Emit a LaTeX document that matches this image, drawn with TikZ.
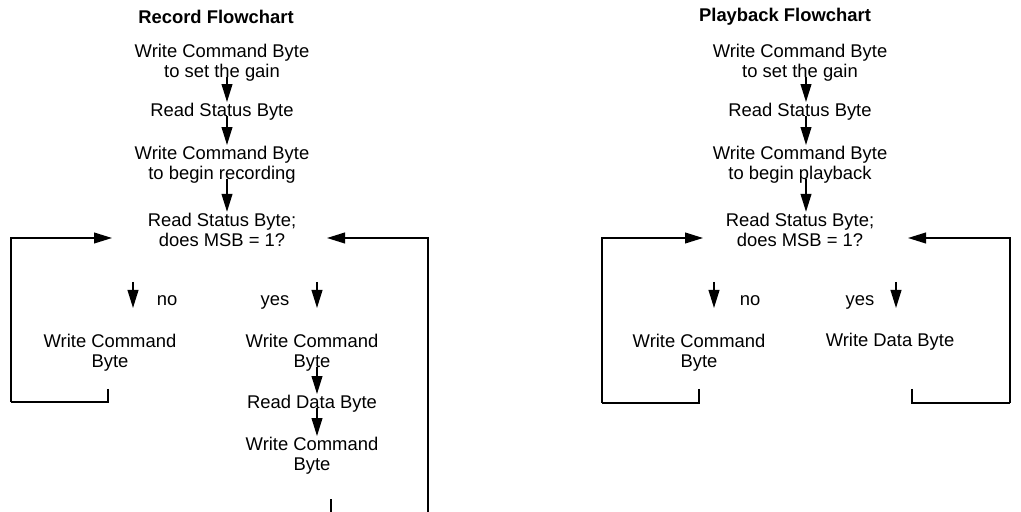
\documentclass[tikz,border=0pt]{standalone}
\usepackage{fontspec}
\setmainfont{Liberation Sans}
\usetikzlibrary{arrows.meta,positioning}
\tikzset{
  stepbox/.style={align=center, inner sep=0pt, font=\fontsize{9.2}{10}\selectfont},
  ttl/.style={inner sep=0pt, font=\fontsize{9.2}{10}\selectfont\bfseries},
  lbl/.style={inner sep=0pt, anchor=base, font=\fontsize{9.2}{10}\selectfont},
  fl/.style={-{Triangle[length=9pt,width=5.4pt]}, line width=0.75pt},
  dn/.style={fl, shorten <=-2.5pt, shorten >=0.5pt},
  ln/.style={line width=0.75pt},
}

\begin{document}
\begin{tikzpicture}[x=0.5pt, y=-0.5pt]
\useasboundingbox (0,0) rectangle (1021,512);

% --- record flowchart ---------------------------------------------------
\node[ttl] (rtitle) at (216,17) {Record Flowchart};
\node[stepbox] (rgain) at (222,63) {Write Command Byte\\to set the gain};
\node[stepbox] (rstat) at (222,112) {Read Status Byte};
\node[stepbox] (rbegin) at (222,165) {Write Command Byte\\to begin recording};
\node[stepbox] (rmsb) at (222,230) {Read Status Byte;\\does MSB = 1?};
\draw[dn] ([xshift=2.5pt]rgain.south) -- ([xshift=2.5pt]rstat.north);
\draw[dn] ([xshift=2.5pt]rstat.south) -- ([xshift=2.5pt]rbegin.north);
\draw[dn] ([xshift=2.5pt]rbegin.south) -- ([xshift=2.5pt]rmsb.north);

\coordinate (rnoA) at (133,282);  \coordinate (rnoB) at (133,308);
\coordinate (ryesA) at (317,282); \coordinate (ryesB) at (317,308);
\draw[fl] (rnoA) -- (rnoB);
\draw[fl] (ryesA) -- (ryesB);
\node[lbl] (rno) at (167,306) {no};
\node[lbl] (ryes) at (275,306) {yes};

\node[stepbox] (rnocmd) at (110,353) {Write Command\\Byte};
\node[stepbox] (ryescmd) at (312,353) {Write Command\\Byte};
\node[stepbox] (rdata) at (312,404) {Read Data Byte};
\node[stepbox] (rcmd) at (312,456) {Write Command\\Byte};
\draw[dn] ([xshift=2.5pt]ryescmd.south) -- ([xshift=2.5pt]rdata.north);
\draw[dn] ([xshift=2.5pt]rdata.south) -- ([xshift=2.5pt]rcmd.north);

% loops back to the status read
\coordinate (rlpA) at (108,389);
\coordinate (rlpB) at (11,402);
\coordinate (rlpC) at (112,238);
\draw[ln] (rlpA) |- (rlpB);
\draw[fl] (rlpB) |- (rlpC);
\coordinate (rrpA) at (331,499);
\coordinate (rrpB) at (331,512);
\coordinate (rrpC) at (428,512);
\coordinate (rrpD) at (327,238);
\draw[ln] (rrpA) -- (rrpB);
\draw[fl] (rrpC) |- (rrpD);

% --- playback flowchart -------------------------------------------------
\node[ttl] (ptitle) at (785,17) {Playback Flowchart};
\node[stepbox] (pgain) at (800,63) {Write Command Byte\\to set the gain};
\node[stepbox] (pstat) at (800,112) {Read Status Byte};
\node[stepbox] (pbegin) at (800,165) {Write Command Byte\\to begin playback};
\node[stepbox] (pmsb) at (800,230) {Read Status Byte;\\does MSB = 1?};
\draw[dn] ([xshift=3pt]pgain.south) -- ([xshift=3pt]pstat.north);
\draw[dn] ([xshift=3pt]pstat.south) -- ([xshift=3pt]pbegin.north);
\draw[dn] ([xshift=3pt]pbegin.south) -- ([xshift=3pt]pmsb.north);

\coordinate (pnoA) at (714,282);  \coordinate (pnoB) at (714,308);
\coordinate (pyesA) at (896,282); \coordinate (pyesB) at (896,308);
\draw[fl] (pnoA) -- (pnoB);
\draw[fl] (pyesA) -- (pyesB);
\node[lbl] (pno) at (750,306) {no};
\node[lbl] (pyes) at (860,306) {yes};

\node[stepbox] (pnocmd) at (699,353) {Write Command\\Byte};
\node[stepbox] (pdata) at (890,342) {Write Data Byte};

\coordinate (plpA) at (699,389);
\coordinate (plpB) at (602,403);
\coordinate (plpC) at (703,238);
\draw[ln] (plpA) |- (plpB);
\draw[fl] (plpB) |- (plpC);
\coordinate (prpA) at (912,389);
\coordinate (prpB) at (1010,403);
\coordinate (prpC) at (908,238);
\draw[ln] (prpA) |- (prpB);
\draw[fl] (prpB) |- (prpC);
\end{tikzpicture}
\end{document}
